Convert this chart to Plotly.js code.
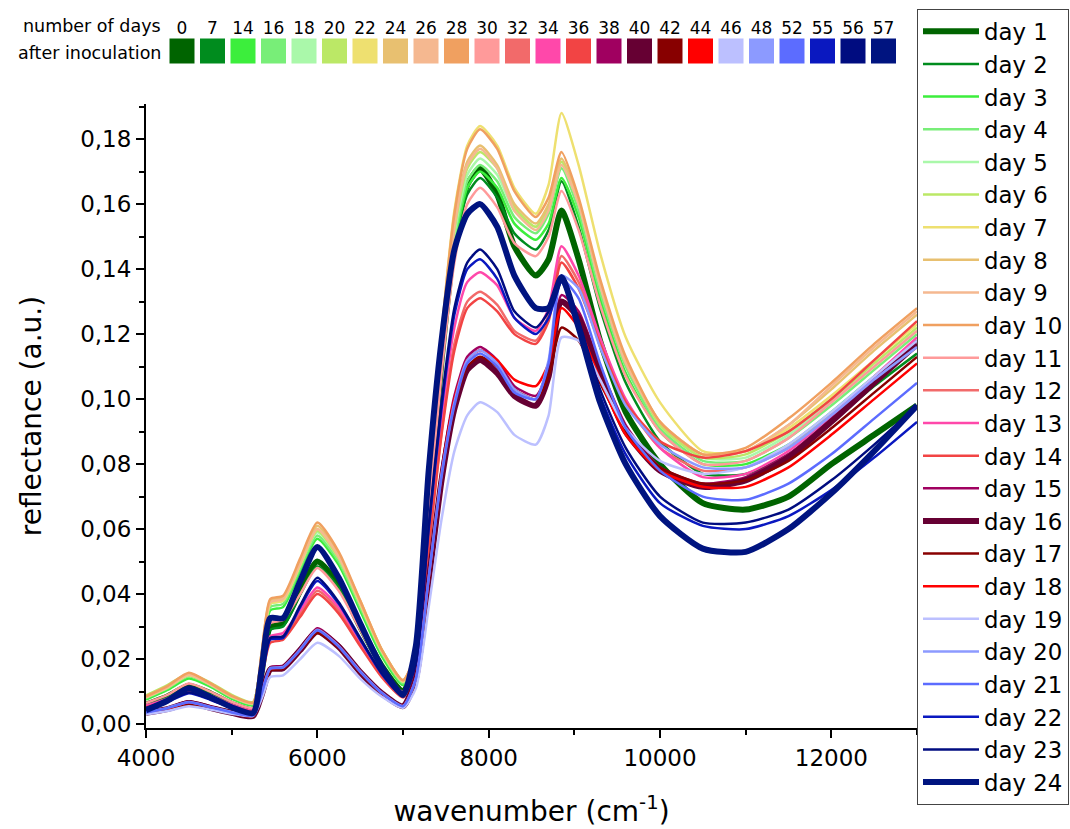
<!DOCTYPE html>
<html><head><meta charset="utf-8">
<script src="https://cdn.plot.ly/plotly-3.0.1.min.js"></script>
<style>html,body{margin:0;padding:0;background:#fff}#chart{width:1070px;height:829px}</style>
</head><body><div id="chart"></div>
<script>
const wavenumber = [4000,4250,4500,4750,5000,5250,5350,5450,5600,5800,6000,6250,6500,6750,7000,7150,7300,7450,7600,7750,7900,8100,8300,8550,8700,8850,9050,9300,9600,10000,10500,11000,11500,12000,12500,13000];

const refl_day1  = [0.0060,0.0085,0.0118,0.0095,0.0062,0.0045,0.016,0.030,0.031,0.041,0.050,0.043,0.030,0.018,0.010, 0.020,0.066,0.112,0.148,0.166,0.171,0.163,0.147,0.138,0.143,0.158,0.143,0.118,0.096,0.080,0.068,0.066,0.070,0.080,0.089,0.098];
const refl_day2  = [0.0058,0.0082,0.0113,0.0092,0.0060,0.0044,0.0155,0.029,0.030,0.040,0.0485,0.042,0.029,0.0175,0.0098, 0.020,0.065,0.110,0.146,0.163,0.168,0.162,0.151,0.146,0.152,0.167,0.153,0.128,0.105,0.087,0.077,0.077,0.083,0.093,0.104,0.114];
const refl_day3  = [0.0075,0.0105,0.0140,0.0115,0.0078,0.0058,0.019,0.035,0.036,0.047,0.057,0.049,0.035,0.021,0.012, 0.021,0.066,0.111,0.147,0.165,0.170,0.165,0.154,0.149,0.154,0.168,0.156,0.131,0.108,0.090,0.080,0.080,0.086,0.096,0.107,0.118];
const refl_day4  = [0.0080,0.0110,0.0147,0.0120,0.0082,0.0062,0.020,0.036,0.037,0.048,0.058,0.050,0.036,0.022,0.0125, 0.021,0.067,0.113,0.149,0.167,0.172,0.167,0.156,0.151,0.157,0.171,0.158,0.133,0.110,0.091,0.081,0.081,0.088,0.098,0.109,0.120];
const refl_day5  = [0.0085,0.0115,0.0152,0.0125,0.0087,0.0066,0.021,0.037,0.038,0.049,0.059,0.051,0.037,0.0225,0.013, 0.021,0.068,0.115,0.151,0.169,0.174,0.169,0.158,0.153,0.159,0.172,0.160,0.135,0.112,0.092,0.082,0.082,0.089,0.099,0.110,0.121];
const refl_day6  = [0.0088,0.0120,0.0155,0.0128,0.0090,0.0068,0.021,0.037,0.038,0.049,0.0595,0.051,0.037,0.023,0.0135, 0.021,0.068,0.116,0.152,0.171,0.176,0.171,0.159,0.153,0.159,0.173,0.161,0.136,0.112,0.092,0.082,0.083,0.090,0.100,0.111,0.122];
const refl_day7  = [0.0082,0.0112,0.0150,0.0122,0.0085,0.0064,0.021,0.037,0.038,0.049,0.060,0.052,0.037,0.0225,0.013, 0.021,0.070,0.120,0.158,0.178,0.184,0.178,0.165,0.157,0.166,0.188,0.172,0.145,0.119,0.099,0.084,0.084,0.091,0.101,0.112,0.123];
const refl_day8  = [0.0085,0.0115,0.0155,0.0125,0.0087,0.0066,0.022,0.038,0.039,0.050,0.061,0.052,0.038,0.023,0.0135, 0.022,0.069,0.117,0.154,0.173,0.178,0.172,0.160,0.154,0.160,0.174,0.161,0.136,0.112,0.093,0.083,0.084,0.092,0.103,0.115,0.126];
const refl_day9  = [0.0083,0.0113,0.0152,0.0122,0.0085,0.0064,0.0215,0.0375,0.0385,0.0495,0.060,0.0515,0.0375,0.0228,0.0133, 0.022,0.069,0.116,0.153,0.172,0.177,0.171,0.158,0.152,0.158,0.172,0.160,0.135,0.111,0.093,0.083,0.084,0.092,0.104,0.116,0.127];
const refl_day10 = [0.0085,0.0117,0.0158,0.0126,0.0087,0.0066,0.022,0.0385,0.0395,0.051,0.062,0.053,0.038,0.023,0.0135, 0.022,0.071,0.120,0.157,0.177,0.183,0.177,0.164,0.156,0.162,0.176,0.162,0.137,0.113,0.093,0.083,0.085,0.094,0.105,0.117,0.128];
const refl_day11 = [0.0065,0.0090,0.0125,0.0100,0.0068,0.0050,0.017,0.031,0.032,0.040,0.048,0.041,0.029,0.0175,0.010, 0.020,0.064,0.108,0.142,0.160,0.165,0.159,0.148,0.144,0.150,0.164,0.152,0.129,0.107,0.090,0.080,0.081,0.088,0.099,0.110,0.121];
const refl_day12 = [0.0055,0.0075,0.0105,0.0085,0.0058,0.0042,0.0145,0.026,0.027,0.034,0.041,0.035,0.025,0.015,0.0085, 0.018,0.055,0.090,0.117,0.130,0.133,0.129,0.121,0.118,0.126,0.144,0.136,0.118,0.099,0.085,0.078,0.079,0.085,0.095,0.106,0.116];
const refl_day13 = [0.0057,0.0078,0.0110,0.0088,0.0060,0.0043,0.015,0.027,0.028,0.035,0.042,0.036,0.0255,0.0152,0.0087, 0.018,0.057,0.094,0.122,0.136,0.139,0.135,0.125,0.121,0.128,0.147,0.138,0.119,0.100,0.085,0.076,0.077,0.084,0.095,0.107,0.119];
const refl_day14 = [0.0052,0.0072,0.0100,0.0080,0.0055,0.0040,0.014,0.025,0.026,0.033,0.040,0.034,0.024,0.0145,0.0082, 0.018,0.054,0.089,0.115,0.128,0.131,0.127,0.120,0.117,0.124,0.142,0.134,0.117,0.099,0.087,0.082,0.084,0.090,0.100,0.112,0.124];
const refl_day15 = [0.0038,0.0050,0.0070,0.0055,0.0038,0.0028,0.0095,0.0175,0.018,0.0235,0.0295,0.0245,0.0165,0.0098,0.0057, 0.015,0.046,0.078,0.101,0.113,0.116,0.112,0.104,0.101,0.110,0.132,0.127,0.110,0.092,0.079,0.074,0.076,0.083,0.094,0.106,0.118];
const refl_day16 = [0.0035,0.0046,0.0065,0.0050,0.0035,0.0025,0.009,0.0168,0.0172,0.0228,0.0285,0.0238,0.016,0.0095,0.0055, 0.014,0.044,0.075,0.097,0.109,0.112,0.108,0.101,0.098,0.107,0.130,0.125,0.108,0.090,0.078,0.073,0.075,0.082,0.093,0.105,0.117];
const refl_day17 = [0.0034,0.0045,0.0063,0.0049,0.0034,0.0024,0.0088,0.0165,0.017,0.0225,0.028,0.0235,0.0158,0.0093,0.0054, 0.014,0.044,0.076,0.098,0.110,0.113,0.110,0.103,0.100,0.107,0.122,0.118,0.105,0.090,0.079,0.074,0.075,0.081,0.091,0.102,0.113];
const refl_day18 = [0.0036,0.0048,0.0067,0.0052,0.0036,0.0026,0.0092,0.017,0.0175,0.023,0.029,0.024,0.0162,0.0096,0.0056, 0.014,0.045,0.077,0.100,0.112,0.115,0.112,0.106,0.104,0.111,0.128,0.122,0.106,0.089,0.078,0.073,0.073,0.079,0.089,0.100,0.111];
const refl_day19 = [0.0030,0.0040,0.0055,0.0045,0.0032,0.0025,0.0078,0.0145,0.015,0.020,0.025,0.021,0.014,0.0085,0.0050, 0.011,0.036,0.063,0.084,0.095,0.099,0.096,0.089,0.086,0.095,0.119,0.118,0.106,0.091,0.081,0.077,0.079,0.086,0.096,0.107,0.118];
const refl_day20 = [0.0037,0.0050,0.0068,0.0053,0.0037,0.0027,0.0095,0.0172,0.0176,0.023,0.029,0.024,0.0163,0.0097,0.0056, 0.014,0.045,0.077,0.099,0.112,0.115,0.111,0.103,0.100,0.112,0.138,0.134,0.116,0.098,0.086,0.079,0.079,0.085,0.095,0.106,0.116];
const refl_day21 = [0.0036,0.0049,0.0067,0.0052,0.0036,0.0026,0.0093,0.017,0.0174,0.0228,0.0288,0.0238,0.0161,0.0096,0.0055, 0.014,0.045,0.076,0.098,0.111,0.114,0.110,0.102,0.100,0.111,0.137,0.131,0.111,0.091,0.078,0.070,0.069,0.074,0.083,0.094,0.105];
const refl_day22 = [0.0048,0.0068,0.0095,0.0075,0.0050,0.0035,0.0135,0.026,0.0265,0.036,0.044,0.037,0.026,0.0155,0.0085, 0.019,0.060,0.097,0.126,0.140,0.143,0.137,0.125,0.120,0.125,0.136,0.122,0.101,0.083,0.068,0.061,0.060,0.064,0.072,0.082,0.093];
const refl_day23 = [0.0049,0.0070,0.0097,0.0077,0.0051,0.0036,0.014,0.0265,0.027,0.0365,0.045,0.0375,0.0265,0.0158,0.0087, 0.019,0.061,0.099,0.128,0.142,0.146,0.140,0.127,0.122,0.127,0.138,0.124,0.103,0.085,0.070,0.062,0.062,0.066,0.075,0.086,0.098];
const refl_day24 = [0.0043,0.0072,0.0110,0.0083,0.0052,0.0034,0.017,0.0326,0.0326,0.044,0.0545,0.045,0.031,0.0176,0.009, 0.024,0.078,0.118,0.146,0.157,0.160,0.153,0.138,0.128,0.128,0.1375,0.122,0.099,0.080,0.064,0.054,0.053,0.060,0.071,0.084,0.098];

const dayLabels = ['day 1','day 2','day 3','day 4','day 5','day 6','day 7','day 8','day 9','day 10','day 11','day 12','day 13','day 14','day 15','day 16','day 17','day 18','day 19','day 20','day 21','day 22','day 23','day 24'];
const daysAfterInoculation = [0,7,14,16,18,20,22,24,26,28,30,32,34,36,38,40,42,44,46,48,52,55,56,57];
const dayColors = ['#006400','#008C1E','#3CEE3C','#78EE78','#AAF8AA','#BBE866','#EEE070','#E8C070','#F5B890','#F0A060','#FF9A9A','#F26A6A','#FF48AA','#F24444','#A00060','#660033','#880000','#FF0000','#BCC0FF','#8C9AFF','#5C6CFF','#0A18C0','#000C80','#001480'];
const thickDays = ['day 1','day 16','day 24'];

const series = [refl_day1,refl_day2,refl_day3,refl_day4,refl_day5,refl_day6,refl_day7,refl_day8,refl_day9,refl_day10,refl_day11,refl_day12,refl_day13,refl_day14,refl_day15,refl_day16,refl_day17,refl_day18,refl_day19,refl_day20,refl_day21,refl_day22,refl_day23,refl_day24];

const FONT = 'DejaVu Sans, Arial, sans-serif';
const W = 1070, H = 829;
const plotLeft = 146, plotRight = 917, plotTop = 104, plotBottom = 728;

const traces = series.map((ys, i) => ({
  type: 'scatter', mode: 'lines', x: wavenumber, y: ys, name: dayLabels[i],
  line: {color: dayColors[i], width: thickDays.includes(dayLabels[i]) ? 6 : 2.5, shape: 'spline', smoothing: 0.6},
  hoverinfo: 'skip'
}));

const cats = daysAfterInoculation.map(String);
traces.push({
  type: 'scatter', mode: 'markers', x: cats, y: cats.map(() => 0.5), xaxis: 'x2', yaxis: 'y2',
  marker: {symbol: 'square', size: 25, color: dayColors, line: {width: 0}},
  showlegend: false, hoverinfo: 'skip'
});
traces.push({
  type: 'scatter', mode: 'text', x: cats, y: cats.map(() => 1.3), text: cats, xaxis: 'x2', yaxis: 'y2',
  textfont: {family: FONT, size: 17, color: '#000'}, textposition: 'middle center',
  showlegend: false, hoverinfo: 'skip'
});

const layout = {
  width: W, height: H,
  margin: {l: 0, r: 0, t: 0, b: 0, autoexpand: false},
  paper_bgcolor: '#fff', plot_bgcolor: '#fff',
  separators: ',.',
  font: {family: FONT, color: '#000'},
  showlegend: true,
  xaxis: {
    domain: [plotLeft / W, plotRight / W], range: [4000, 13000], anchor: 'y',
    tickmode: 'linear', tick0: 4000, dtick: 2000, tickformat: 'd',
    ticks: 'outside', ticklen: 8, tickwidth: 2, tickcolor: '#000',
    minor: {ticks: 'outside', dtick: 1000, ticklen: 5, tickwidth: 2, tickcolor: '#000'},
    showline: true, linewidth: 2, linecolor: '#000', showgrid: false, zeroline: false,
    tickfont: {family: FONT, size: 23, color: '#000'},
    title: {text: 'wavenumber (cm<sup>-1</sup>)', font: {family: FONT, size: 28, color: '#000'}, standoff: 32},
    automargin: false
  },
  yaxis: {
    domain: [1 - plotBottom / H, 1 - plotTop / H], range: [-0.0012, 0.1908], anchor: 'x',
    tickmode: 'linear', tick0: 0, dtick: 0.02, tickformat: '.2f',
    ticks: 'outside', ticklen: 8, tickwidth: 2, tickcolor: '#000',
    minor: {ticks: 'outside', dtick: 0.01, ticklen: 5, tickwidth: 2, tickcolor: '#000'},
    showline: true, linewidth: 2, linecolor: '#000', showgrid: false, zeroline: false,
    tickfont: {family: FONT, size: 23, color: '#000'},
    title: {text: 'reflectance (a.u.)', font: {family: FONT, size: 28, color: '#000'}, standoff: 30},
    automargin: false
  },
  xaxis2: {domain: [166.75 / W, 898.75 / W], anchor: 'y2', type: 'category', range: [-0.5, 23.5], visible: false, fixedrange: true},
  yaxis2: {domain: [1 - 64 / H, 1 - 12 / H], anchor: 'x2', range: [0, 2], visible: false, fixedrange: true},
  legend: {
    x: plotRight / W, xanchor: 'left', y: 1 - 9 / H, yanchor: 'top',
    bgcolor: '#fff', bordercolor: '#444', borderwidth: 1,
    font: {family: FONT, size: 22.8, color: '#000'},
    itemwidth: 56, tracegroupgap: 0, traceorder: 'normal'
  },
  annotations: [
    {xref: 'paper', yref: 'paper', x: 163 / W, y: 1 - 26 / H, xanchor: 'right', yanchor: 'middle', showarrow: false,
     text: 'number of days', font: {family: FONT, size: 17.5, color: '#000'}},
    {xref: 'paper', yref: 'paper', x: 163 / W, y: 1 - 53 / H, xanchor: 'right', yanchor: 'middle', showarrow: false,
     text: 'after inoculation', font: {family: FONT, size: 17.5, color: '#000'}}
  ]
};

Plotly.newPlot('chart', traces, layout, {displayModeBar: false, staticPlot: true});
</script>
</body></html>
